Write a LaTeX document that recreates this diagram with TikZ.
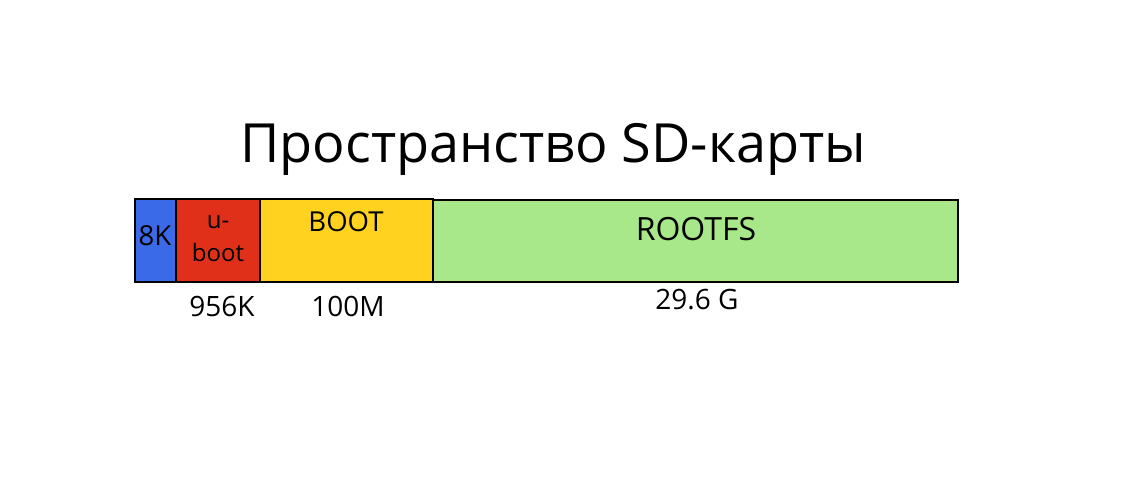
\documentclass[tikz,border=0pt]{standalone}
\usepackage{fontspec}
\setmainfont{Open Sans}
\definecolor{cblue}{HTML}{3B6AE8}
\definecolor{cred}{HTML}{E0301A}
\definecolor{cyellow}{HTML}{FFD21F}
\definecolor{cgreen}{HTML}{A8E88A}
\tikzset{
  seg/.style={draw=black, line width=2.2pt, inner sep=0pt, outer sep=0pt},
  lbl/.style={inner sep=0pt, anchor=base, font=\fontsize{27.5}{32}\selectfont},
  size/.style={inner sep=0pt, anchor=base, font=\fontsize{28}{32}\selectfont},
}
\begin{document}
\begin{tikzpicture}[x=1pt,y=-1pt]
\useasboundingbox (0,0) rectangle (1134,484);
\node[seg, fill=cgreen, minimum width=525pt, minimum height=82pt] (rootfs) at (695.5,241) {};
\node[seg, fill=cyellow, minimum width=173pt, minimum height=83pt] (boot) at (346.5,240.5) {};
\node[seg, fill=cred, minimum width=84pt, minimum height=83pt] (uboot) at (218,240.5) {};
\node[seg, fill=cblue, minimum width=41pt, minimum height=83pt] (k8) at (155.5,240.5) {};
\node[lbl] (t8k) at (155,245) {8K};
\node[lbl, font=\fontsize{24}{28}\selectfont] (tu) at (218,228) {u-};
\node[lbl, font=\fontsize{24}{28}\selectfont] (tb) at (218,261) {boot};
\node[lbl] (tboot) at (346,231) {BOOT};
\node[lbl, font=\fontsize{32}{36}\selectfont] (troot) at (696,240) {ROOTFS};
\node[size] (s1) at (222,316) {956K};
\node[size] (s2) at (348,316) {100M};
\node[size] (s3) at (697,309) {29.6 G};
\node[inner sep=0pt, anchor=base, font=\fontsize{54}{62}\selectfont] (title) at (553,162) {Пространство SD-карты};
\end{tikzpicture}
\end{document}
